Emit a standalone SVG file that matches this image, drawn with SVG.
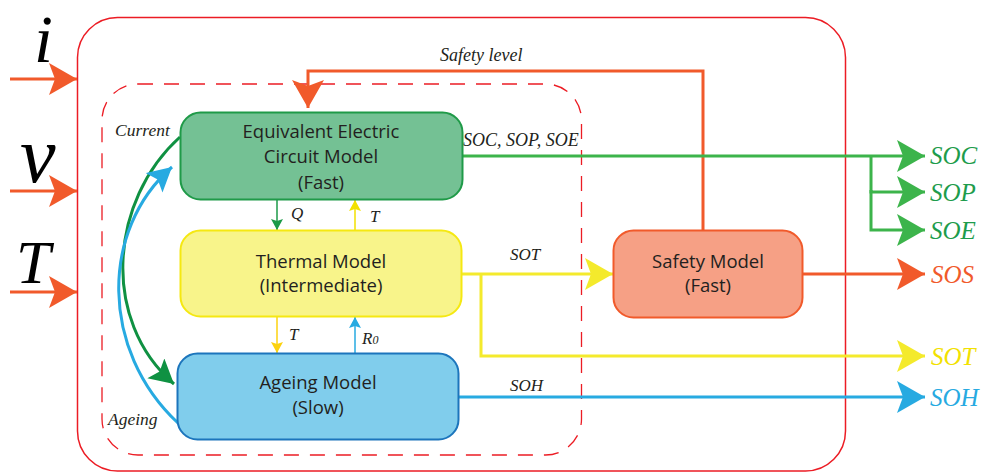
<svg xmlns="http://www.w3.org/2000/svg" width="981" height="472" viewBox="0 0 981 472">
<style>
.box{font-family:"Open Sans","Noto Sans",sans-serif;font-size:18.5px;fill:#231f20;text-anchor:middle}
.it{font-family:"Liberation Serif",serif;font-style:italic;fill:#231f20}
.out{font-family:"Liberation Serif",serif;font-style:italic;font-size:25px}
.big{font-family:"Liberation Serif",serif;font-style:italic;fill:#000}
</style>
<defs>
<marker id="hO" markerUnits="userSpaceOnUse" markerWidth="40" markerHeight="40" refX="28" refY="16" orient="auto" viewBox="0 0 40 40"><path d="M0,0 L28,16 L0,32 L6,16 Z" fill="#f15a2b"/></marker>
<marker id="hG" markerUnits="userSpaceOnUse" markerWidth="40" markerHeight="40" refX="28" refY="16" orient="auto" viewBox="0 0 40 40"><path d="M0,0 L28,16 L0,32 L6,16 Z" fill="#3cb44b"/></marker>
<marker id="hY" markerUnits="userSpaceOnUse" markerWidth="40" markerHeight="40" refX="28" refY="16" orient="auto" viewBox="0 0 40 40"><path d="M0,0 L28,16 L0,32 L6,16 Z" fill="#f4ea2c"/></marker>
<marker id="hB" markerUnits="userSpaceOnUse" markerWidth="40" markerHeight="40" refX="28" refY="16" orient="auto" viewBox="0 0 40 40"><path d="M0,0 L28,16 L0,32 L6,16 Z" fill="#27aae1"/></marker>
<marker id="cG" markerUnits="userSpaceOnUse" markerWidth="30" markerHeight="30" refX="24" refY="13" orient="auto" viewBox="0 0 30 30"><path d="M0,0 L24,13 L0,26 L5,13 Z" fill="#0f9142"/></marker>
<marker id="cB" markerUnits="userSpaceOnUse" markerWidth="30" markerHeight="30" refX="24" refY="13" orient="auto" viewBox="0 0 30 30"><path d="M0,0 L24,13 L0,26 L5,13 Z" fill="#27aae1"/></marker>
<marker id="sG" markerUnits="userSpaceOnUse" markerWidth="14" markerHeight="14" refX="11" refY="6" orient="auto" viewBox="0 0 14 14"><path d="M0,0 L11,6 L0,12 L2,6 Z" fill="#1c9a48"/></marker>
<marker id="sY" markerUnits="userSpaceOnUse" markerWidth="14" markerHeight="14" refX="11" refY="6" orient="auto" viewBox="0 0 14 14"><path d="M0,0 L11,6 L0,12 L2,6 Z" fill="#f2e100"/></marker>
<marker id="sY2" markerUnits="userSpaceOnUse" markerWidth="14" markerHeight="14" refX="11" refY="6" orient="auto" viewBox="0 0 14 14"><path d="M0,0 L11,6 L0,12 L2,6 Z" fill="#fcd20f"/></marker>
<marker id="sB" markerUnits="userSpaceOnUse" markerWidth="14" markerHeight="14" refX="11" refY="6" orient="auto" viewBox="0 0 14 14"><path d="M0,0 L11,6 L0,12 L2,6 Z" fill="#27aae1"/></marker>
</defs>
<rect width="981" height="472" fill="#fff"/>

<g id="frames">
<rect x="77.5" y="17.5" width="768" height="453.5" rx="40" fill="none" stroke="#ec1c24" stroke-width="1.5"/>
<rect x="102" y="84" width="479.5" height="371" rx="36" fill="none" stroke="#ec1c24" stroke-width="1.3" stroke-dasharray="15,11"/>
</g>

<g id="inputs">
<text class="big" x="34" y="62" font-size="68">i</text>
<text class="big" x="20" y="182" font-size="80">v</text>
<text class="big" x="16" y="283" font-size="62">T</text>
</g>

<g id="connectors" fill="none">
<path d="M10,79 H77" stroke="#f15a2b" stroke-width="3" marker-end="url(#hO)"/>
<path d="M10,191 H77" stroke="#f15a2b" stroke-width="3" marker-end="url(#hO)"/>
<path d="M10,292 H77" stroke="#f15a2b" stroke-width="3" marker-end="url(#hO)"/>
<path d="M703,230 V71 H308 V108" stroke="#f15a2b" stroke-width="3" marker-end="url(#hO)"/>
<path d="M463,156 H925" stroke="#3cb44b" stroke-width="3" marker-end="url(#hG)"/>
<path d="M871,156 V192 H925" stroke="#3cb44b" stroke-width="3" marker-end="url(#hG)"/>
<path d="M871,190 V230 H925" stroke="#3cb44b" stroke-width="3" marker-end="url(#hG)"/>
<path d="M803,274 H925" stroke="#f15a2b" stroke-width="3" marker-end="url(#hO)"/>
<path d="M462,274 H613" stroke="#f4ea2c" stroke-width="3" marker-end="url(#hY)"/>
<path d="M481,274 V356 H925" stroke="#f4ea2c" stroke-width="3" marker-end="url(#hY)"/>
<path d="M459,397 H925" stroke="#27aae1" stroke-width="3" marker-end="url(#hB)"/>
<path d="M180,137 C110,200 100,320 174,384" stroke="#0f9142" stroke-width="3" marker-end="url(#cG)"/>
<path d="M178,423 C100,350 100,230 172,167" stroke="#27aae1" stroke-width="3" marker-end="url(#cB)"/>
<path d="M277,200 V230" stroke="#1c9a48" stroke-width="1.5" marker-end="url(#sG)"/>
<path d="M355,230 V200" stroke="#f2e100" stroke-width="1.5" marker-end="url(#sY)"/>
<path d="M277,317 V353" stroke="#fcd20f" stroke-width="1.5" marker-end="url(#sY2)"/>
<path d="M355,353 V317" stroke="#27aae1" stroke-width="1.5" marker-end="url(#sB)"/>
</g>

<g id="labels">
<text class="it" x="440" y="61" font-size="18">Safety level</text>
<text class="it" x="463" y="146" font-size="18">SOC, SOP, SOE</text>
<text class="it" x="115" y="136" font-size="17.5">Current</text>
<text class="it" x="108" y="425" font-size="17.5">Ageing</text>
<text class="it" x="291" y="219" font-size="17">Q</text>
<text class="it" x="370" y="222" font-size="17">T</text>
<text class="it" x="289" y="340" font-size="17">T</text>
<text class="it" x="362" y="344" font-size="17">R<tspan font-size="12">0</tspan></text>
<text class="it" x="510" y="260" font-size="17">SOT</text>
<text class="it" x="510" y="391" font-size="17">SOH</text>
<text class="out" x="930" y="164" fill="#1e9c4c">SOC</text>
<text class="out" x="930" y="201" fill="#1e9c4c">SOP</text>
<text class="out" x="930" y="239" fill="#1e9c4c">SOE</text>
<text class="out" x="931" y="283" fill="#f15a2b">SOS</text>
<text class="out" x="931" y="365" fill="#f2e100">SOT</text>
<text class="out" x="930" y="406" fill="#27aae1">SOH</text>
</g>

<g id="eec">
<rect x="180.5" y="112.5" width="282" height="87" rx="20" fill="#74c194" stroke="#1f9a48" stroke-width="2"/>
<text class="box" x="321" y="138">Equivalent Electric</text>
<text class="box" x="321" y="163">Circuit Model</text>
<text class="box" x="321" y="189">(Fast)</text>
</g>
<g id="thermal">
<rect x="180.5" y="230.5" width="281" height="86" rx="20" fill="#f8f48a" stroke="#f5e812" stroke-width="2"/>
<text class="box" x="321" y="268">Thermal Model</text>
<text class="box" x="321" y="292">(Intermediate)</text>
</g>
<g id="ageing">
<rect x="177.5" y="353.5" width="281" height="86" rx="20" fill="#80cdec" stroke="#1c75bc" stroke-width="2"/>
<text class="box" x="318" y="389">Ageing Model</text>
<text class="box" x="318" y="414">(Slow)</text>
</g>
<g id="safety">
<rect x="613.5" y="230.5" width="189" height="87" rx="20" fill="#f6a085" stroke="#f15a2b" stroke-width="2"/>
<text class="box" x="708" y="268">Safety Model</text>
<text class="box" x="708" y="292">(Fast)</text>
</g>
</svg>
